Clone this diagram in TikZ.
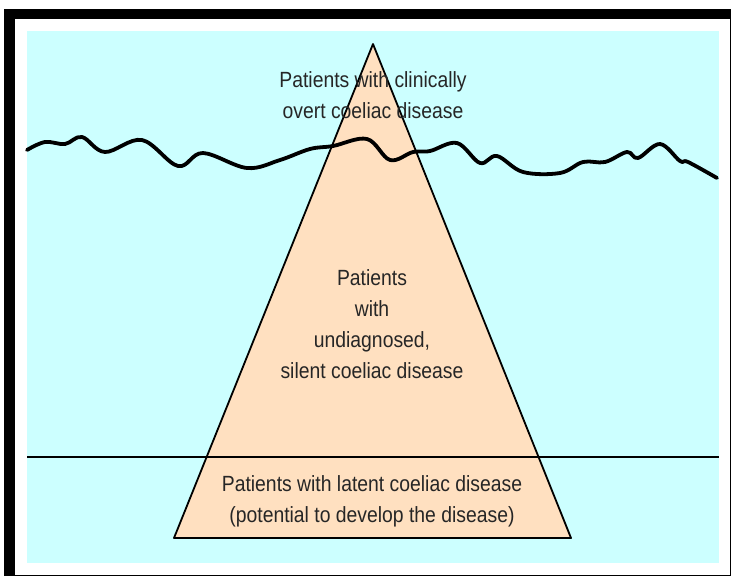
\documentclass[tikz,border=0pt]{standalone}
\usepackage{fontspec}
\newfontfamily\bergfont{Liberation Sans}[FakeStretch=0.88]
\usetikzlibrary{positioning}
\definecolor{MySea}{HTML}{CCFFFF}
\definecolor{MyBerg}{HTML}{FFE0C0}
\definecolor{MyText}{HTML}{262626}

\begin{document}
\begin{tikzpicture}[x=1pt, y=-1pt, every node/.style={font=\bergfont\fontsize{22}{31}\selectfont, text=MyText, align=center, inner sep=0pt}, wave/.style={line width=3.8pt, line join=round, line cap=round}]
			\useasboundingbox (0,0) rectangle (736,576);
			% frame and sea
			\fill[black] (4,9) rectangle (731,576);
			\fill[white] (15,19) rectangle (729.5,574.5);
			\fill[MySea] (27,31) rectangle (719,563);
			%
			\coordinate (apex) at (373,44);
			\coordinate (baseL) at (174,538);
			\coordinate (baseR) at (571,538);
			\filldraw[fill=MyBerg, line width=1.8pt, line join=round] (apex) -- (baseR) -- (baseL) -- cycle;
			%
			\coordinate (floorL) at (27,457);
			\coordinate (floorR) at (719,457);
			\draw[line width=2.6pt] (floorL) -- (floorR);
			%
			\draw[wave] plot[smooth, tension=0.6] coordinates {(27,150) (45,142) (65,144) (82,137) (105,152) (142,140) (178,166) (203,153) (247,168) (280,160) (310,149) (333,146) (367,139) (390,160) (413,152) (430,151) (457,143) (480,163) (497,156) (523,172) (560,173) (583,162) (605,162) (627,152) (638,158) (660,144) (680,161) (688,162) (717,178)};
			%
			\node[anchor=base] (overt) at (373,118) {Patients with clinically\\overt coeliac disease};
			\node[anchor=base] (silent) at (372,378) {Patients\\with\\undiagnosed,\\silent coeliac disease};
			\node[anchor=base] (latent) at (372,522) {Patients with latent coeliac disease\\(potential to develop the disease)};
		\end{tikzpicture}
\end{document}
